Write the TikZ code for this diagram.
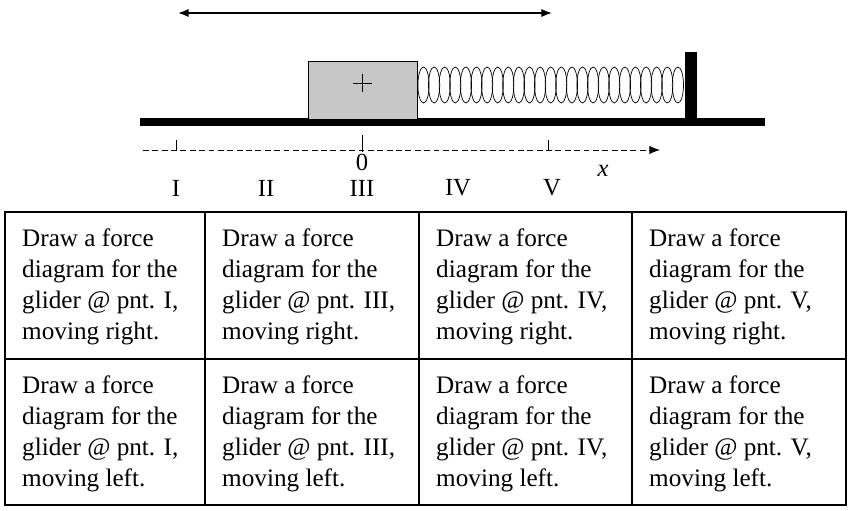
\documentclass[tikz,border=0pt]{standalone}
\usepackage{fontspec}
\setmainfont{Liberation Serif}
\usetikzlibrary{arrows.meta}
\tikzset{
  cell/.style={anchor=north west, align=left, inner sep=0pt, font=\fontsize{21.5}{26.4}\selectfont},
  lbl/.style={font=\fontsize{21}{24}\selectfont},
}
\begin{document}
\begin{tikzpicture}[x=0.03cm,y=-0.03cm]
    \useasboundingbox (0,0) rectangle (851,511);
    % motion range
    \coordinate (left) at (178,13);
    \coordinate (right) at (552,13);
    \draw[line width=1.4, <->, >={Latex[length=9pt,width=7pt]}] (left) -- (right);
    % track, wall, glider
    \draw[line width=6.5] (140,122) -- (765,122);
    \fill (685,52) rectangle (697,122);
    \node[draw, thick, fill=black!22, minimum width=109*0.03cm, minimum height=58*0.03cm, inner sep=0pt] at (362.5,90) (glider) {};
    \draw (353,83) -- (372,83) (362.5,74) -- (362.5,92);
    % spring
    \foreach \i in {0,...,24}
      \draw[semithick] (423.5+\i*10.6,85) ellipse (5.6 and 18);
    % axis
    \coordinate (axstart) at (143,150);
    \coordinate (axend) at (660,150);
    \draw[thick, dash pattern=on 5pt off 3pt, -{Latex[length=9pt,width=7pt]}] (axstart) -- (axend);
    \foreach \xx in {176,548} \draw[thick] (\xx,140) -- (\xx,150);
    \draw[thick] (362,135) -- (362,152);
    \node[lbl] at (362,162) {0};
    \node[lbl] at (603,171) {\itshape x};
    \foreach \xx/\t in {176/I,266/II,362/III,458/IV,552/V}
      \node[lbl] at (\xx,188) {\t};
    % table
    \draw[line width=1.3] (5,212) rectangle (846,505);
    \draw[line width=1.3] (5,359) -- (846,359);
    \foreach \xx in {205,419,632} \draw[line width=1.3] (\xx,212) -- (\xx,505);
    \foreach \xx/\p [count=\c] in {5/I,205/III,419/IV,632/V} {
      \node[cell] (r\c) at (\xx+17,229) {Draw a force\\diagram for the\\glider @ pnt. \p,\\moving right.};
      \node[cell] (l\c) at (\xx+17,376) {Draw a force\\diagram for the\\glider @ pnt. \p,\\moving left.};
    }
\end{tikzpicture}
\end{document}
